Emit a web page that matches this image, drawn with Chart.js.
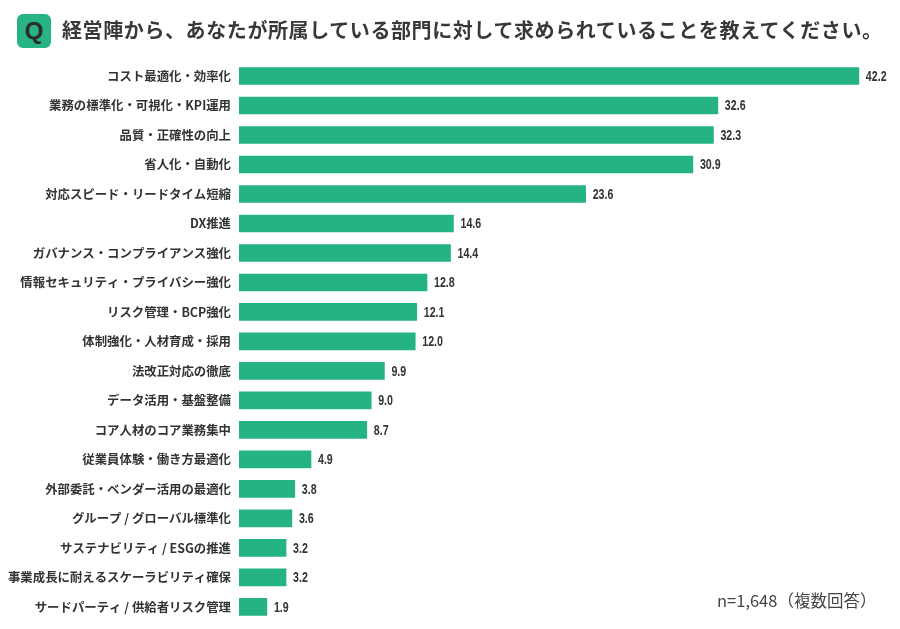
<!DOCTYPE html>
<html>
<head>
<meta charset="utf-8">
<script src="https://cdn.jsdelivr.net/npm/chart.js@4"></script>
<style>
  html, body { margin: 0; padding: 0; background: #fff; }
  #wrap { position: relative; width: 900px; height: 629px; overflow: hidden; }
  #q {
    position: absolute; left: 17px; top: 14px; width: 34px; height: 34px;
    background: #27b383; border-radius: 6px; color: #2b2b2b;
    font: bold 24px "Liberation Sans", Arial, sans-serif;
    text-align: center; line-height: 34px;
  }
  #title {
    position: absolute; left: 62px; top: 16px; white-space: nowrap;
    font: bold 20px "Noto Sans CJK JP", sans-serif; color: #383838; letter-spacing: 0.6px;
    line-height: 28px;
  }
  #note {
    position: absolute; left: 717px; top: 588px; white-space: nowrap;
    font: 16.5px "Noto Sans CJK JP", sans-serif; color: #444;
  }
</style>
</head>
<body>
<div id="wrap">
  <canvas id="myChart" width="900" height="637"></canvas>
  <div id="q">Q</div>
  <div id="title">経営陣から、あなたが所属している部門に対して求められていることを教えてください。</div>
  <div id="note">n=1,648（複数回答）</div>
</div>
<script>
"use strict";

var categories = [
  "コスト最適化・効率化",
  "業務の標準化・可視化・KPI運用",
  "品質・正確性の向上",
  "省人化・自動化",
  "対応スピード・リードタイム短縮",
  "DX推進",
  "ガバナンス・コンプライアンス強化",
  "情報セキュリティ・プライバシー強化",
  "リスク管理・BCP強化",
  "体制強化・人材育成・採用",
  "法改正対応の徹底",
  "データ活用・基盤整備",
  "コア人材のコア業務集中",
  "従業員体験・働き方最適化",
  "外部委託・ベンダー活用の最適化",
  "グループ / グローバル標準化",
  "サステナビリティ / ESGの推進",
  "事業成長に耐えるスケーラビリティ確保",
  "サードパーティ / 供給者リスク管理"
];
var values = [42.2, 32.6, 32.3, 30.9, 23.6, 14.6, 14.4, 12.8, 12.1, 12.0, 9.9, 9.0, 8.7, 4.9, 3.8, 3.6, 3.2, 3.2, 1.9];

// draws the number just right of each bar (squeezed to look condensed)
var valueLabels = {
  id: "valueLabels",
  afterDatasetsDraw: function(chart) {
    var ctx = chart.ctx;
    var meta = chart.getDatasetMeta(0);
    ctx.save();
    ctx.fillStyle = "#333";
    ctx.font = "bold 14px 'Liberation Sans', sans-serif";
    ctx.textBaseline = "middle";
    meta.data.forEach(function(bar, i) {
      ctx.save();
      ctx.translate(bar.x + 7, bar.y + 1);
      ctx.scale(0.76, 1);
      ctx.fillText(values[i].toFixed(1), 0, 0);
      ctx.restore();
    });
    ctx.restore();
  }
};

var ctx = document.getElementById("myChart").getContext("2d");
var myChart = new Chart(ctx, {
  type: "bar",
  data: {
    labels: categories,
    datasets: [{
      data: values,
      backgroundColor: "#25b386",
      barThickness: 17
    }]
  },
  options: {
    indexAxis: "y",
    responsive: false,
    animation: false,
    layout: { padding: { top: 61.3, bottom: 0, left: 0, right: 0 } },
    plugins: { legend: { display: false }, tooltip: { enabled: false } },
    scales: {
      x: {
        min: 0,
        max: 45,
        display: false,
        grid: { display: false }
      },
      y: {
        grid: { display: false, drawTicks: false },
        border: { display: false },
        afterFit: function(scale) { scale.width = 239; },
        ticks: {
          padding: 8,
          color: "#333",
          font: { family: "'Noto Sans CJK JP', sans-serif", size: 12.4, weight: "bold" }
        }
      }
    }
  },
  plugins: [valueLabels]
});
</script>
</body>
</html>
